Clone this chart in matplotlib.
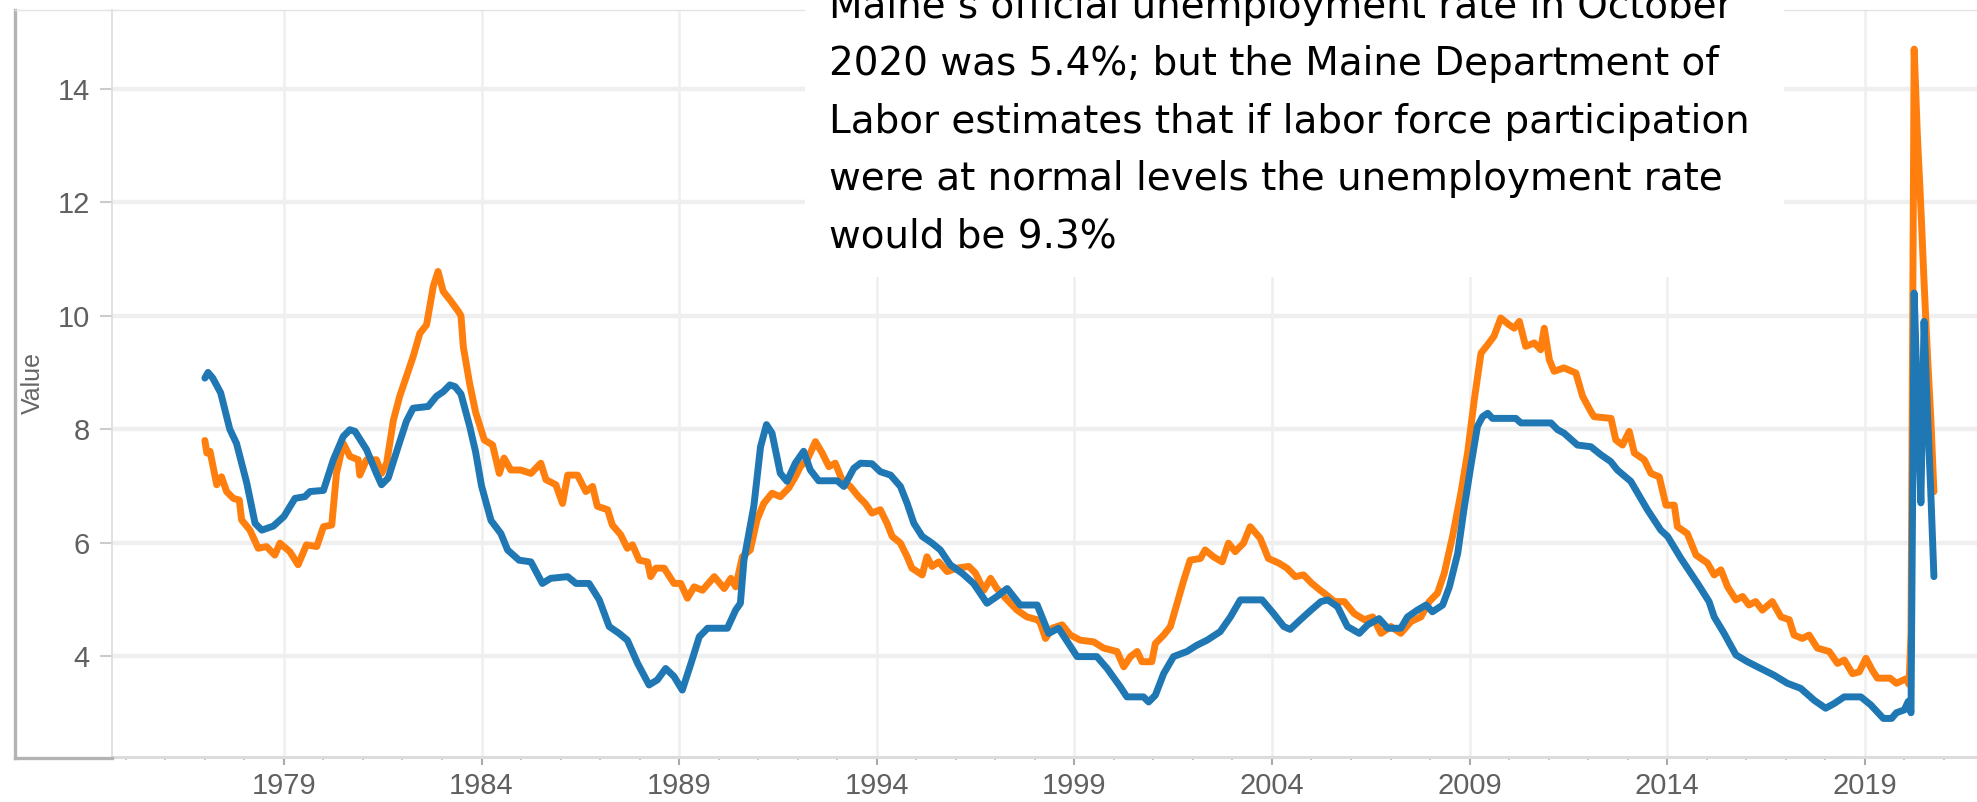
import matplotlib
matplotlib.use("Agg")
import matplotlib.pyplot as plt
from matplotlib.lines import Line2D
from matplotlib.patches import Rectangle

# Maine (blue) (anio decimal, tasa %)
maine_t = [1977.00, 1977.08, 1977.20, 1977.40, 1977.63, 1977.80, 1978.06, 1978.27, 1978.44, 1978.73,
           1979.00, 1979.28, 1979.53, 1979.66, 1980.00, 1980.25, 1980.50, 1980.67, 1980.80, 1981.09,
           1981.34, 1981.47, 1981.64, 1981.89, 1982.10, 1982.27, 1982.65, 1982.86, 1983.03, 1983.20,
           1983.33, 1983.48, 1983.70, 1983.85, 1984.00, 1984.24, 1984.49, 1984.66, 1984.95, 1985.25,
           1985.54, 1985.75, 1986.18, 1986.39, 1986.72, 1986.98, 1987.23, 1987.48, 1987.69, 1987.95,
           1988.24, 1988.45, 1988.66, 1988.87, 1989.08, 1989.30, 1989.51, 1989.72, 1990.22, 1990.43,
           1990.55, 1990.64, 1990.89, 1991.06, 1991.21, 1991.35, 1991.56, 1991.73, 1991.94, 1992.15,
           1992.32, 1992.53, 1993.00, 1993.17, 1993.42, 1993.59, 1993.88, 1994.09, 1994.35, 1994.60,
           1994.77, 1994.94, 1995.15, 1995.40, 1995.61, 1995.86, 1996.16, 1996.45, 1996.79, 1997.04,
           1997.30, 1997.63, 1998.06, 1998.35, 1998.60, 1999.07, 1999.57, 1999.83, 2000.16, 2000.33,
           2000.75, 2000.88, 2001.05, 2001.26, 2001.51, 2001.85, 2002.10, 2002.36, 2002.69, 2002.95,
           2003.20, 2003.75, 2004.04, 2004.30, 2004.46, 2004.72, 2004.99, 2005.24, 2005.41, 2005.66,
           2005.91, 2006.21, 2006.42, 2006.71, 2006.93, 2007.26, 2007.43, 2007.68, 2007.90, 2008.06,
           2008.32, 2008.49, 2008.70, 2008.87, 2009.03, 2009.20, 2009.33, 2009.46, 2009.58, 2010.17,
           2010.30, 2011.06, 2011.23, 2011.39, 2011.73, 2012.07, 2012.32, 2012.57, 2012.74, 2013.08,
           2013.50, 2013.84, 2014.01, 2014.35, 2014.77, 2015.06, 2015.19, 2015.44, 2015.74, 2016.03,
           2016.37, 2016.71, 2017.04, 2017.38, 2017.72, 2018.01, 2018.22, 2018.48, 2018.90, 2019.15,
           2019.47, 2019.68, 2019.80, 2020.00, 2020.10, 2020.17, 2020.25, 2020.33, 2020.42, 2020.50,
           2020.58, 2020.67, 2020.75]
maine_v = [8.90, 9.00, 8.90, 8.64, 8.00, 7.75, 7.05, 6.34, 6.22, 6.29,
           6.46, 6.78, 6.81, 6.90, 6.92, 7.46, 7.87, 7.99, 7.96, 7.64,
           7.22, 7.02, 7.14, 7.69, 8.14, 8.37, 8.40, 8.58, 8.66, 8.78,
           8.75, 8.62, 8.05, 7.60, 7.00, 6.39, 6.16, 5.87, 5.69, 5.66,
           5.28, 5.37, 5.40, 5.28, 5.28, 4.99, 4.52, 4.40, 4.28, 3.87,
           3.49, 3.58, 3.78, 3.64, 3.40, 3.87, 4.34, 4.49, 4.49, 4.81,
           4.93, 5.69, 6.64, 7.69, 8.08, 7.93, 7.22, 7.08, 7.40, 7.61,
           7.28, 7.09, 7.09, 6.99, 7.31, 7.40, 7.39, 7.25, 7.19, 6.99,
           6.69, 6.34, 6.11, 5.99, 5.87, 5.61, 5.46, 5.28, 4.93, 5.05,
           5.19, 4.90, 4.90, 4.40, 4.49, 3.99, 3.99, 3.78, 3.46, 3.28,
           3.28, 3.19, 3.31, 3.69, 3.99, 4.08, 4.19, 4.28, 4.43, 4.69,
           4.99, 4.99, 4.75, 4.52, 4.47, 4.64, 4.81, 4.96, 4.99, 4.87,
           4.52, 4.40, 4.55, 4.66, 4.49, 4.49, 4.69, 4.81, 4.90, 4.78,
           4.90, 5.22, 5.81, 6.64, 7.34, 8.05, 8.22, 8.28, 8.19, 8.19,
           8.11, 8.11, 7.99, 7.93, 7.72, 7.69, 7.55, 7.43, 7.28, 7.08,
           6.58, 6.22, 6.11, 5.72, 5.28, 4.96, 4.69, 4.40, 4.02, 3.90,
           3.78, 3.66, 3.52, 3.43, 3.22, 3.08, 3.16, 3.28, 3.28, 3.14,
           2.90, 2.90, 3.00, 3.05, 3.20, 3.00, 10.40, 8.60, 6.70, 9.90,
           8.40, 6.90, 5.40]

# US (orange)
us_t = [1977.00, 1977.05, 1977.13, 1977.30, 1977.42, 1977.55, 1977.72, 1977.87, 1977.93, 1978.14,
        1978.35, 1978.56, 1978.77, 1978.90, 1979.15, 1979.36, 1979.57, 1979.83, 1980.00, 1980.21,
        1980.33, 1980.50, 1980.67, 1980.88, 1980.92, 1981.09, 1981.34, 1981.47, 1981.60, 1981.77,
        1981.93, 1982.10, 1982.27, 1982.44, 1982.61, 1982.78, 1982.90, 1983.03, 1983.20, 1983.41,
        1983.48, 1983.54, 1983.70, 1983.85, 1984.07, 1984.28, 1984.45, 1984.57, 1984.74, 1984.99,
        1985.25, 1985.50, 1985.63, 1985.88, 1986.05, 1986.18, 1986.43, 1986.64, 1986.81, 1986.93,
        1987.19, 1987.31, 1987.52, 1987.69, 1987.82, 1987.99, 1988.20, 1988.28, 1988.41, 1988.62,
        1988.87, 1989.04, 1989.21, 1989.38, 1989.59, 1989.89, 1990.14, 1990.31, 1990.43, 1990.60,
        1990.80, 1990.97, 1991.14, 1991.35, 1991.56, 1991.77, 1991.94, 1992.07, 1992.24, 1992.45,
        1992.62, 1992.79, 1992.95, 1993.12, 1993.33, 1993.54, 1993.71, 1993.88, 1994.09, 1994.26,
        1994.39, 1994.60, 1994.77, 1994.89, 1995.15, 1995.27, 1995.40, 1995.57, 1995.78, 1996.03,
        1996.33, 1996.50, 1996.71, 1996.88, 1997.04, 1997.30, 1997.55, 1997.80, 1998.06, 1998.14,
        1998.27, 1998.44, 1998.69, 1998.90, 1999.15, 1999.49, 1999.74, 2000.08, 2000.25, 2000.42,
        2000.59, 2000.71, 2000.96, 2001.05, 2001.26, 2001.43, 2001.60, 2001.77, 2001.93, 2002.19,
        2002.31, 2002.52, 2002.74, 2002.90, 2003.07, 2003.28, 2003.45, 2003.70, 2003.91, 2004.17,
        2004.38, 2004.59, 2004.80, 2005.01, 2005.22, 2005.32, 2005.58, 2005.83, 2006.08, 2006.34,
        2006.55, 2006.76, 2007.01, 2007.26, 2007.52, 2007.77, 2007.98, 2008.19, 2008.36, 2008.57,
        2008.78, 2008.95, 2009.12, 2009.29, 2009.46, 2009.62, 2009.79, 2010.00, 2010.13, 2010.26,
        2010.42, 2010.64, 2010.80, 2010.89, 2011.02, 2011.14, 2011.39, 2011.69, 2011.86, 2012.07,
        2012.15, 2012.58, 2012.70, 2012.87, 2013.04, 2013.17, 2013.42, 2013.59, 2013.80, 2013.97,
        2014.18, 2014.26, 2014.51, 2014.73, 2015.02, 2015.19, 2015.36, 2015.53, 2015.74, 2015.91,
        2016.07, 2016.24, 2016.41, 2016.66, 2016.88, 2017.09, 2017.21, 2017.42, 2017.59, 2017.80,
        2018.10, 2018.31, 2018.48, 2018.69, 2018.86, 2019.03, 2019.19, 2019.32, 2019.64, 2019.80,
        2020.05, 2020.12, 2020.17, 2020.25, 2020.33, 2020.42, 2020.50, 2020.58, 2020.67, 2020.75]
us_v = [7.80, 7.58, 7.61, 7.02, 7.16, 6.90, 6.78, 6.75, 6.40, 6.22,
        5.90, 5.93, 5.78, 5.99, 5.84, 5.61, 5.96, 5.93, 6.28, 6.31,
        7.22, 7.75, 7.52, 7.46, 7.19, 7.46, 7.46, 7.22, 7.40, 8.16,
        8.58, 8.93, 9.28, 9.69, 9.84, 10.52, 10.78, 10.43, 10.28, 10.08,
        10.00, 9.45, 8.80, 8.30, 7.81, 7.72, 7.22, 7.49, 7.28, 7.28,
        7.22, 7.40, 7.11, 7.02, 6.69, 7.19, 7.19, 6.90, 6.99, 6.64,
        6.58, 6.31, 6.14, 5.90, 5.96, 5.69, 5.66, 5.40, 5.55, 5.55,
        5.28, 5.28, 5.02, 5.22, 5.16, 5.40, 5.19, 5.37, 5.22, 5.75,
        5.87, 6.40, 6.69, 6.87, 6.81, 6.96, 7.16, 7.34, 7.46, 7.78,
        7.58, 7.34, 7.40, 7.11, 6.99, 6.81, 6.69, 6.52, 6.58, 6.34,
        6.11, 5.99, 5.75, 5.55, 5.43, 5.75, 5.58, 5.66, 5.49, 5.55,
        5.58, 5.46, 5.16, 5.37, 5.19, 4.99, 4.81, 4.69, 4.64, 4.58,
        4.31, 4.49, 4.55, 4.37, 4.28, 4.25, 4.14, 4.08, 3.81, 3.99,
        4.08, 3.90, 3.90, 4.22, 4.37, 4.52, 4.93, 5.34, 5.69, 5.72,
        5.87, 5.75, 5.66, 5.99, 5.84, 5.99, 6.28, 6.08, 5.72, 5.64,
        5.55, 5.40, 5.43, 5.28, 5.16, 5.11, 4.96, 4.96, 4.75, 4.64,
        4.69, 4.40, 4.52, 4.40, 4.61, 4.69, 4.96, 5.11, 5.46, 6.11,
        6.87, 7.58, 8.52, 9.34, 9.49, 9.64, 9.96, 9.84, 9.78, 9.90,
        9.46, 9.52, 9.40, 9.78, 9.22, 9.02, 9.08, 8.99, 8.58, 8.31,
        8.22, 8.19, 7.81, 7.72, 7.96, 7.58, 7.46, 7.22, 7.16, 6.66,
        6.66, 6.28, 6.16, 5.78, 5.64, 5.43, 5.52, 5.22, 4.99, 5.05,
        4.90, 4.96, 4.81, 4.96, 4.69, 4.64, 4.37, 4.31, 4.37, 4.14,
        4.08, 3.87, 3.93, 3.69, 3.72, 3.96, 3.75, 3.61, 3.61, 3.52,
        3.60, 3.50, 4.40, 14.70, 13.20, 11.90, 10.60, 9.40, 8.20, 6.90]

year_ticks = [1979, 1984, 1989, 1994, 1999, 2004, 2009, 2014, 2019]
y_ticks = [4, 6, 8, 10, 12, 14]

note_lines = [
    "Maine\u2019s official unemployment rate in October",
    "2020 was 5.4%; but the Maine Department of",
    "Labor estimates that if labor force participation",
    "were at normal levels the unemployment rate",
    "would be 9.3%",
]

W, H = 1977, 802


def fx(px):
    return px / W


def fy(py):
    return 1 - py / H


fig = plt.figure(figsize=(W / 100, H / 100), dpi=100)
ax = fig.add_axes([fx(112), fy(757), fx(1977 - 112), (757 - 10) / H])

ax.plot(us_t, us_v, color="#ff7f0e", lw=5, solid_joinstyle="round", solid_capstyle="round", zorder=3)
ax.plot(maine_t, maine_v, color="#1f77b4", lw=5, solid_joinstyle="round", solid_capstyle="round", zorder=4)

ax.set_xlim(1974.65, 2021.84)
ax.set_ylim(2.22, 15.39)

ax.set_xticks(year_ticks)
ax.set_xticklabels([str(y) for y in year_ticks])
ax.set_xticks(range(1975, 2022), minor=True)
ax.set_yticks(y_ticks)
ax.set_yticklabels([str(v) for v in y_ticks])

ax.grid(axis="y", color="#efefef", lw=3.2, zorder=0)
ax.grid(axis="x", which="major", color="#efefef", lw=1.8, zorder=0)
ax.set_axisbelow(True)

for lab in ax.get_xticklabels() + ax.get_yticklabels():
    lab.set_fontfamily("Liberation Sans")
ax.tick_params(axis="x", which="major", length=6, width=1.5, color="#aaaaaa",
               labelsize=21, labelcolor="#606060", pad=5)
ax.tick_params(axis="x", which="minor", length=2.5, width=1.2, color="#bbbbbb")
ax.tick_params(axis="y", length=9, width=1.5, color="#cccccc",
               labelsize=21, labelcolor="#606060", pad=7)

ax.set_ylabel("Value", fontsize=18, color="#666666", family="Liberation Sans")
ax.yaxis.set_label_coords(-0.036, 0.5)

ax.spines["right"].set_visible(False)
ax.spines["left"].set_color("#dcdcdc")
ax.spines["left"].set_linewidth(1.2)
ax.spines["top"].set_color("#e3e3e3")
ax.spines["top"].set_linewidth(1.0)
ax.spines["bottom"].set_color("#dcdcdc")
ax.spines["bottom"].set_linewidth(2.2)

# marco exterior
fig.add_artist(Line2D([fx(15.5), fx(15.5)], [fy(10), fy(758)], color="#b3b3b3", lw=2.4))
fig.add_artist(Line2D([fx(15), fx(112)], [fy(757.5), fy(757.5)], color="#b3b3b3", lw=2.4))
fig.add_artist(Line2D([fx(15), fx(112)], [fy(10), fy(10)], color="#e3e3e3", lw=1.0))

# cuadro de texto
fig.add_artist(Rectangle((fx(805), fy(277)), fx(1784 - 805), 277 / H,
                         transform=fig.transFigure, facecolor="white", edgecolor="none", zorder=5))
for i, line in enumerate(note_lines):
    fig.text(fx(829), fy(18 + 57.3 * i), line, fontsize=28, family="DejaVu Sans",
             color="black", va="baseline", ha="left", zorder=6)

fig.savefig("out.png", dpi=100)
